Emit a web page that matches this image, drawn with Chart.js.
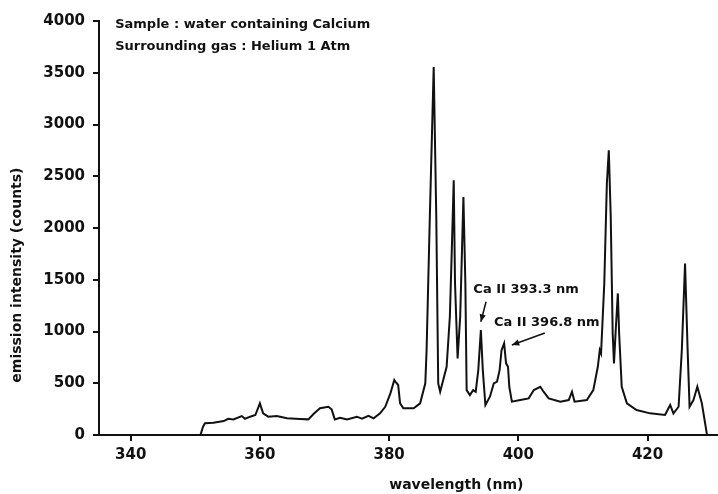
<!DOCTYPE html>
<html>
<head>
<meta charset="utf-8">
<script src="https://cdn.jsdelivr.net/npm/chart.js@4.4.1/dist/chart.umd.min.js"></script>
<style>
    html, body { margin: 0; padding: 0; background: #fff; }
    canvas { display: block; }
</style>
</head>
<body>
<canvas id="spectrumChart" width="718" height="494"></canvas>
<script>
// spectrum: wavelength (nm) / emission (counts)
var wavelengthNm = [
    350.8, 351.2, 351.5, 352.8, 354.4, 355.1, 355.9, 357.2, 357.7, 358.5,
    359.3, 360.0, 360.5, 361.3, 362.6, 364.2, 366.2, 367.5, 368.3, 369.3,
    370.6, 371.1, 371.6, 372.4, 373.5, 375.0, 375.8, 376.8, 377.6, 378.6,
    379.4, 380.2, 380.8, 381.1, 381.4, 381.7, 382.2, 383.8, 384.8, 385.6,
    385.8, 386.3, 386.9, 387.3, 387.6, 387.9, 388.9, 389.4, 389.7, 390.0,
    390.2, 390.6, 391.0, 391.5, 391.8, 392.0, 392.5, 393.0, 393.4, 393.8,
    394.2, 394.5, 394.9, 395.6, 396.2, 396.7, 397.1, 397.4, 397.8, 398.1,
    398.4, 398.6, 399.0, 400.3, 401.6, 402.4, 403.4, 403.9, 404.7, 406.5,
    407.8, 408.3, 408.7, 410.6, 411.6, 412.3, 412.6, 412.8, 413.3, 413.7,
    414.0, 414.3, 414.6, 414.8, 415.1, 415.4, 415.6, 416.0, 416.8, 418.3,
    420.4, 422.7, 423.5, 424.0, 424.8, 425.3, 425.8, 426.2, 426.5, 427.1,
    427.7, 428.4, 429.2
];
var emissionCounts = [
    0, 80, 113, 119, 135, 157, 151, 183, 157, 177,
    193, 306, 209, 177, 183, 161, 155, 151, 203, 258,
    273, 248, 151, 167, 151, 177, 157, 186, 161, 209,
    273, 402, 531, 505, 483, 306, 258, 258, 306, 499,
    820, 2107, 3555, 2107, 499, 418, 659, 1142, 1786, 2461,
    1467, 740, 1142, 2300, 1464, 434, 386, 434, 418, 627,
    1013, 627, 290, 370, 499, 515, 627, 820, 885, 692,
    660, 466, 322, 338, 354, 434, 466, 418, 354, 322,
    338, 418, 322, 338, 434, 659, 820, 788, 1464, 2430,
    2751, 2107, 982, 692, 1046, 1368, 982, 466, 306, 241,
    209, 193, 290, 209, 273, 820, 1657, 820, 273, 338,
    466, 306, 0
];

var xTickValues = [340, 360, 380, 400, 420];
var yTickValues = [0, 500, 1000, 1500, 2000, 2500, 3000, 3500, 4000];

var xTitle = "wavelength (nm)";
var yTitle = "emission intensity (counts)";
var headerLines = ["Sample : water containing Calcium", "Surrounding gas : Helium 1 Atm"];
var headerX = 337.6;
var headerY = [3930, 3717];

var noteLabels = ["Ca II 393.3 nm", "Ca II 396.8 nm"];
var noteX = [401.2, 404.4];
var noteY = [1400, 1081];
var arrowFromX = [395.0, 404.1];
var arrowFromY = [1287, 985];
var arrowToX = [394.2, 399.0];
var arrowToY = [1094, 869];

var ink = "#111";
var boldFont = function (size) {
    return "bold " + size + "px 'DejaVu Sans'";
};

// texts, arrows and axis titles drawn on top of the plot
var notesPlugin = {
    id: "spectrumNotes",
    afterDraw: function (chart) {
        var ctx = chart.ctx;
        var sx = chart.scales.x;
        var sy = chart.scales.y;
        var area = chart.chartArea;

        ctx.save();
        ctx.fillStyle = ink;
        ctx.strokeStyle = ink;

        ctx.font = boldFont(13);
        ctx.textAlign = "left";
        ctx.textBaseline = "alphabetic";
        headerLines.forEach(function (line, i) {
            ctx.fillText(line, sx.getPixelForValue(headerX), sy.getPixelForValue(headerY[i]));
        });

        ctx.textAlign = "center";
        ctx.textBaseline = "middle";
        noteLabels.forEach(function (label, i) {
            ctx.fillText(label, sx.getPixelForValue(noteX[i]), sy.getPixelForValue(noteY[i]));

            var x0 = sx.getPixelForValue(arrowFromX[i]);
            var y0 = sy.getPixelForValue(arrowFromY[i]);
            var x1 = sx.getPixelForValue(arrowToX[i]);
            var y1 = sy.getPixelForValue(arrowToY[i]);
            var ang = Math.atan2(y1 - y0, x1 - x0);
            ctx.lineWidth = 1.5;
            ctx.beginPath();
            ctx.moveTo(x0, y0);
            ctx.lineTo(x1, y1);
            ctx.stroke();
            ctx.beginPath();
            ctx.moveTo(x1, y1);
            ctx.lineTo(x1 - 8 * Math.cos(ang - 0.4), y1 - 8 * Math.sin(ang - 0.4));
            ctx.lineTo(x1 - 8 * Math.cos(ang + 0.4), y1 - 8 * Math.sin(ang + 0.4));
            ctx.closePath();
            ctx.fill();
        });

        ctx.font = boldFont(14);
        ctx.fillText(xTitle, sx.getPixelForValue(390.4), area.bottom + 50);

        ctx.translate(17, sy.getPixelForValue(1545));
        ctx.rotate(-Math.PI / 2);
        ctx.fillText(yTitle, 0, 0);
        ctx.restore();
    }
};

var tickFont = { family: "DejaVu Sans", size: 15, weight: "bold" };

new Chart(document.getElementById("spectrumChart"), {
    type: "line",
    data: {
        datasets: [{
            data: wavelengthNm.map(function (w, i) {
                return { x: w, y: emissionCounts[i] };
            }),
            borderColor: ink,
            borderWidth: 2,
            pointRadius: 0,
            tension: 0,
            fill: false
        }]
    },
    options: {
        responsive: false,
        animation: false,
        layout: { padding: { top: 21, right: 0, bottom: 0, left: 0 } },
        plugins: {
            legend: { display: false },
            tooltip: { enabled: false }
        },
        scales: {
            x: {
                type: "linear",
                min: 335.1,
                max: 430.9,
                afterBuildTicks: function (scale) {
                    scale.ticks = xTickValues.map(function (v) { return { value: v }; });
                },
                afterFit: function (scale) { scale.height = 59; },
                grid: { drawOnChartArea: false, drawTicks: true, tickLength: 6, color: ink, lineWidth: 2 },
                border: { color: ink, width: 2 },
                ticks: {
                    color: ink, font: tickFont, padding: 5, maxRotation: 0,
                    callback: function (v) { return String(v); }
                }
            },
            y: {
                min: 0,
                max: 4000,
                afterBuildTicks: function (scale) {
                    scale.ticks = yTickValues.map(function (v) { return { value: v }; });
                },
                afterFit: function (scale) { scale.width = 99; },
                grid: { drawOnChartArea: false, drawTicks: true, tickLength: 6, color: ink, lineWidth: 2 },
                border: { color: ink, width: 2 },
                ticks: {
                    color: ink, font: tickFont, padding: 8,
                    callback: function (v) { return String(v); }
                }
            }
        }
    },
    plugins: [notesPlugin]
});
</script>
</body>
</html>
